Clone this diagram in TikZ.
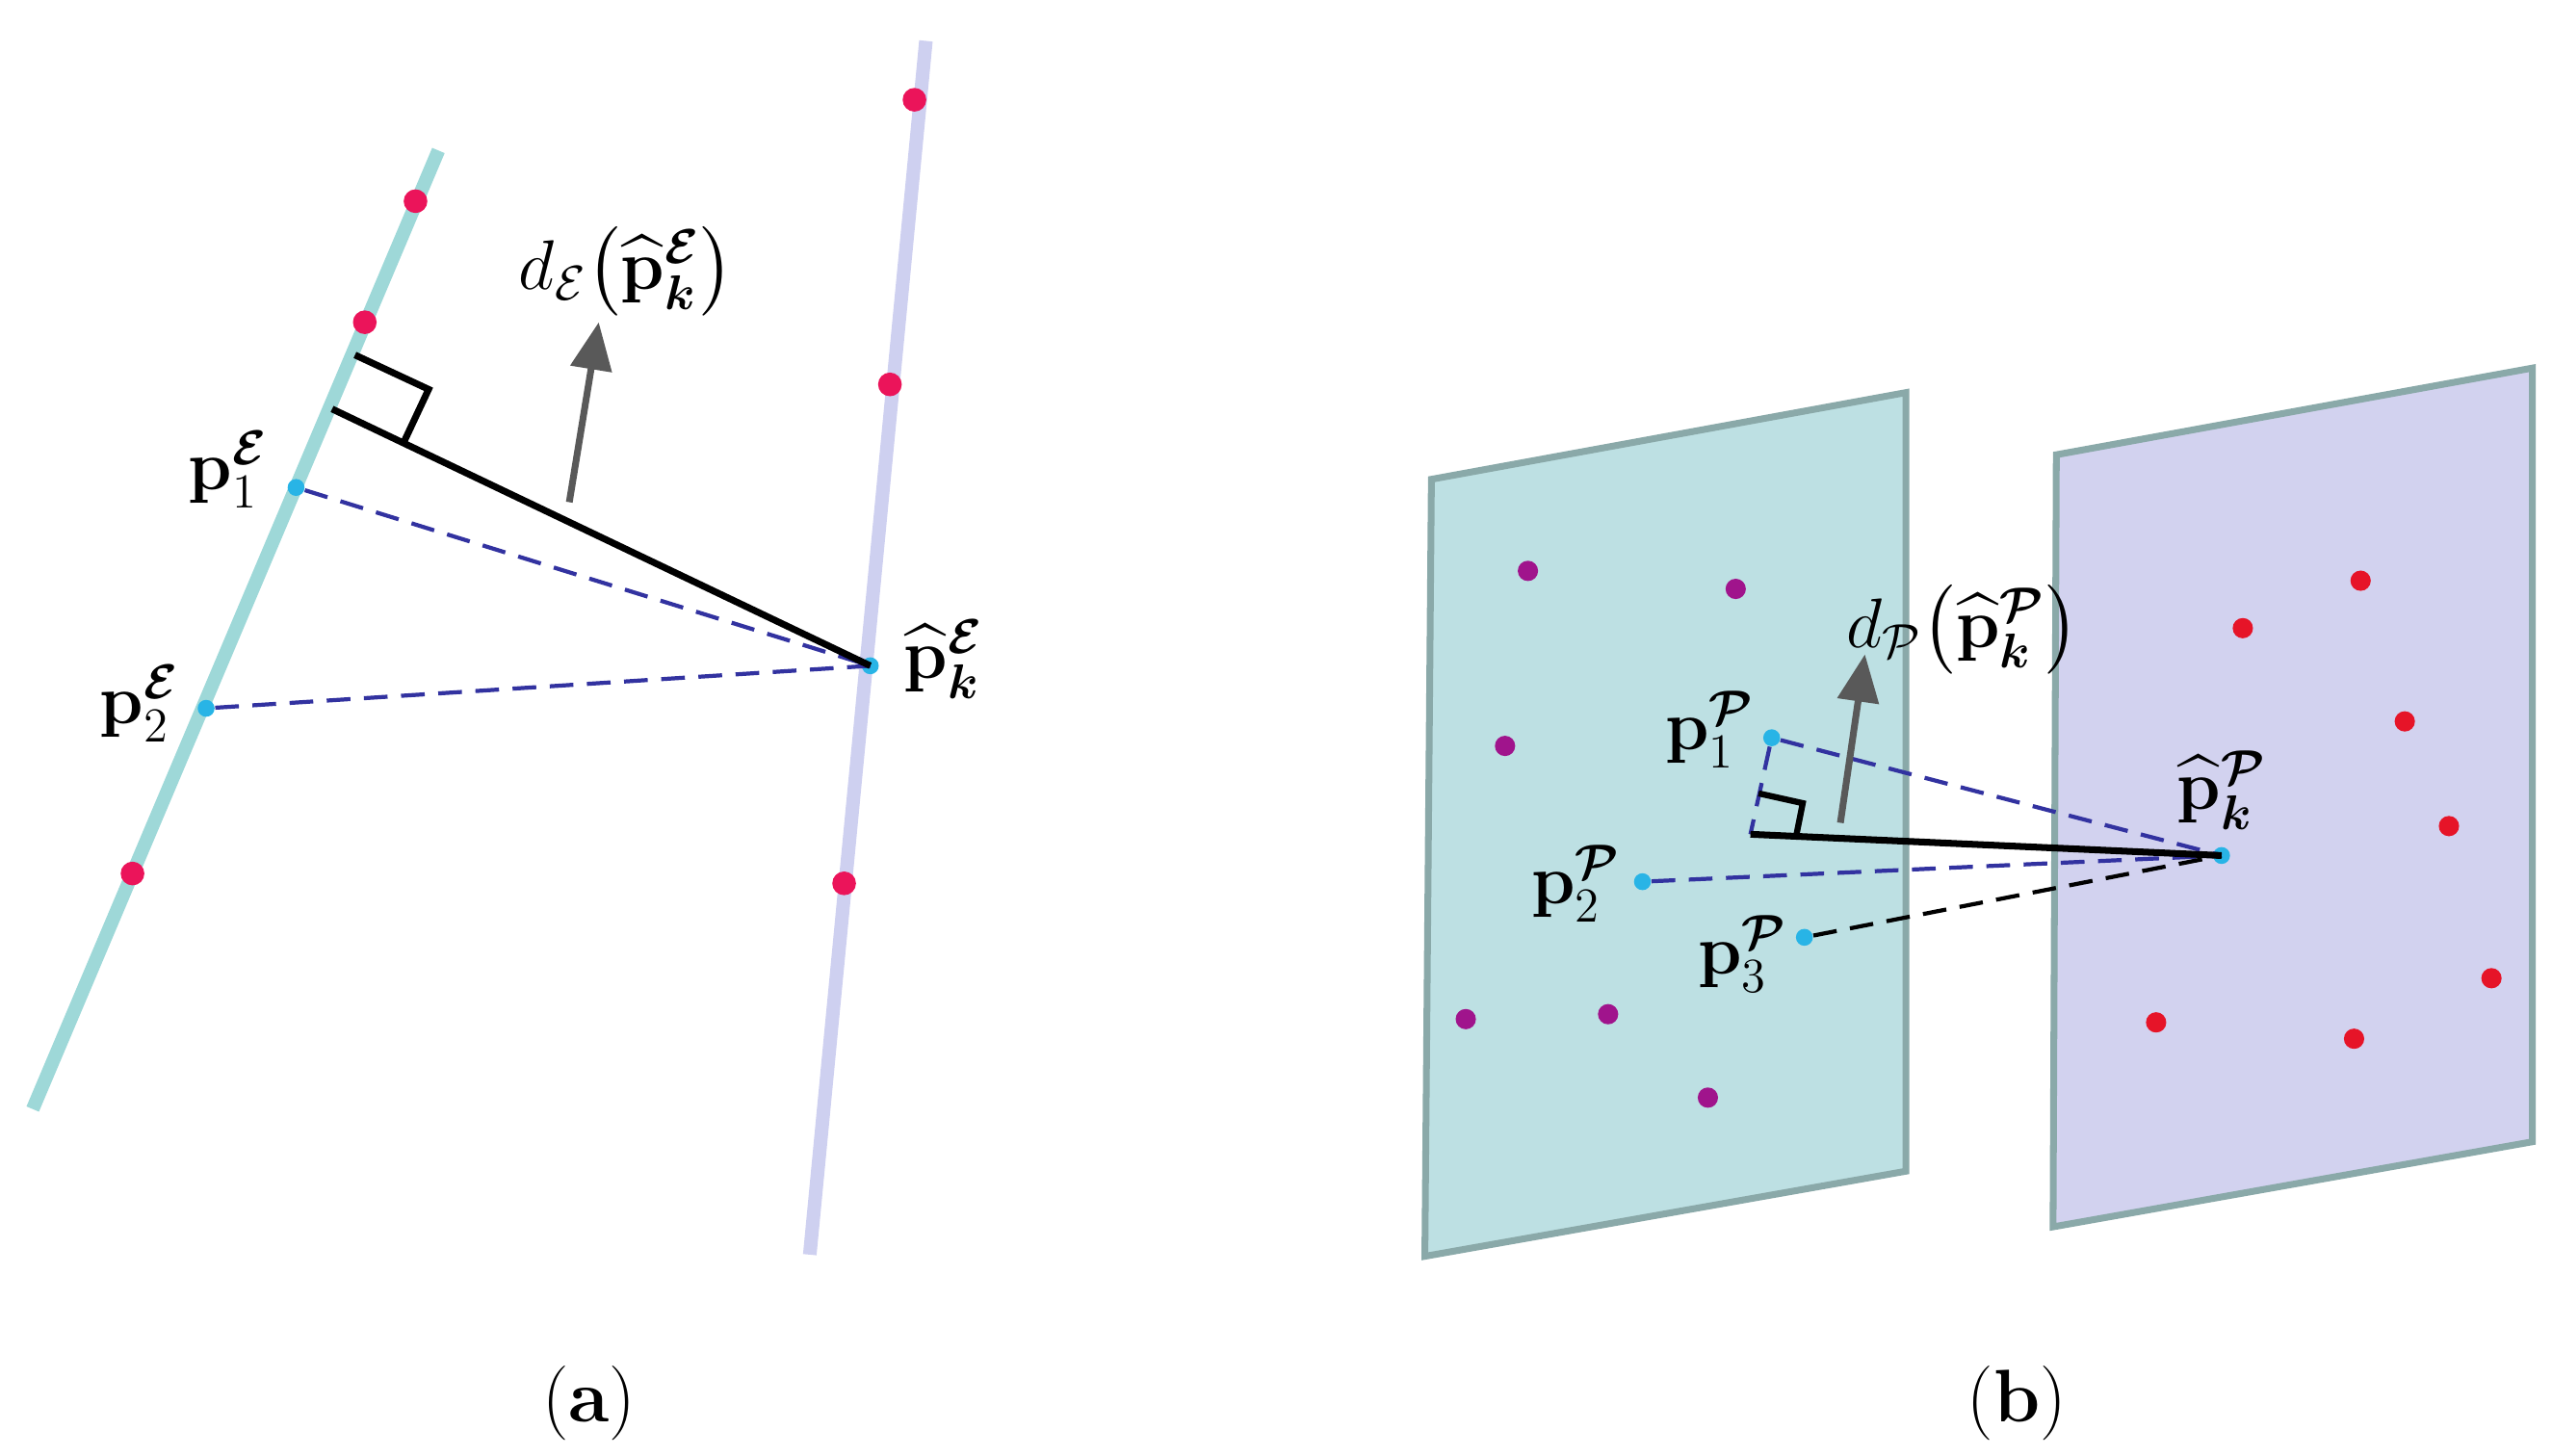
\documentclass[tikz,border=0pt]{standalone}
\usepackage{amsmath,amssymb,bm}
\usetikzlibrary{arrows.meta}
\begin{document}
\begin{tikzpicture}[x=0.016987cm,y=-0.016987cm,
  lbl/.style={font=\fontsize{22}{26}\selectfont, inner sep=1pt},
  rdot/.style={circle,fill={rgb,255:red,235;green,20;blue,90},inner sep=0pt,minimum size=7pt},
  pdot/.style={circle,fill={rgb,255:red,160;green,20;blue,140},inner sep=0pt,minimum size=6pt},
  rdot2/.style={circle,fill={rgb,255:red,230;green,20;blue,40},inner sep=0pt,minimum size=6pt},
  cdot/.style={circle,fill={rgb,255:red,40;green,180;blue,230},inner sep=0pt,minimum size=5pt},
  dsh/.style={dash pattern=on 7pt off 4pt,draw={rgb,255:red,50;green,50;blue,160},line width=1.2pt},
  arr/.style={draw=black!65,line width=2pt,-{Triangle[length=14pt,width=12pt]}}]
\useasboundingbox (0,0) rectangle (1560,890);
% ---- (a)
\coordinate (c1) at (268,92); \coordinate (c2) at (20,678);
\coordinate (l1) at (566,25); \coordinate (l2) at (495,767);
\draw[line width=4pt,color={rgb,255:red,158;green,216;blue,216}] (c1) -- (c2);
\draw[line width=4pt,color={rgb,255:red,206;green,208;blue,240}] (l1) -- (l2);
\foreach \p in {(254,123),(223,197),(81,534),(559,61),(544,235),(516,540)} \node[rdot] at \p {};
\node[cdot] (a1) at (181,298) {};
\node[cdot] (a2) at (126,433) {};
\node[cdot] (ak) at (532,407) {};
\coordinate (af) at (203,250);
\draw[dsh] (a1) -- (ak.center);
\draw[dsh] (a2) -- (ak.center);
\draw[line width=2pt] (af) -- (ak.center);
\draw[line width=2pt] (217,217) -- (262,238) -- (247,270);
\coordinate (aa1) at (348,307); \coordinate (aa2) at (366,197);
\draw[arr] (aa1) -- (aa2);
\node[lbl] (ad) at (383,166) {$d_{\mathcal{E}}\big(\widehat{\mathbf{p}}_{\bm{k}}^{\bm{\mathcal{E}}}\big)$};
\node[lbl,anchor=east] at (166,287) {$\mathbf{p}_1^{\bm{\mathcal{E}}}$};
\node[lbl,anchor=east] at (112,430) {$\mathbf{p}_2^{\bm{\mathcal{E}}}$};
\node[lbl,anchor=west] at (550,403) {$\widehat{\mathbf{p}}_{\bm{k}}^{\bm{\mathcal{E}}}$};
\node[lbl] at (360,858) {(\textbf{a})};
% ---- (b)
\draw[line width=2pt,draw={rgb,255:red,138;green,169;blue,169},fill={rgb,255:red,189;green,224;blue,227}]
  (875,293) -- (1165,240) -- (1165,716) -- (871,768) -- cycle;
\draw[line width=2pt,draw={rgb,255:red,138;green,169;blue,169},fill={rgb,255:red,210;green,210;blue,239}]
  (1257,278) -- (1548,225) -- (1548,698) -- (1255,750) -- cycle;
\foreach \p in {(934,349),(1061,360),(920,456),(896,623),(983,620),(1044,671)} \node[pdot] at \p {};
\foreach \p in {(1443,355),(1371,384),(1470,441),(1497,505),(1523,598),(1318,625),(1439,635)} \node[rdot2] at \p {};
\node[cdot] (b1) at (1083,451) {};
\node[cdot] (b2) at (1004,539) {};
\node[cdot] (b3) at (1103,573) {};
\node[cdot] (bk) at (1358,523) {};
\coordinate (bf) at (1070,510);
\draw[dsh] (b1) -- (bk.center);
\draw[dsh] (b2) -- (bk.center);
\draw[dash pattern=on 7pt off 4pt,line width=1.2pt] (b3) -- (bk.center);
\draw[dsh] (b1) -- (bf);
\draw[line width=2pt] (bf) -- (bk.center);
\draw[line width=1.8pt] (1075,485) -- (1102,491) -- (1098,511);
\coordinate (ba1) at (1125,503); \coordinate (ba2) at (1140,400);
\draw[arr] (ba1) -- (ba2);
\node[lbl] at (1200,385) {$d_{\mathcal{P}}\big(\widehat{\mathbf{p}}_{\bm{k}}^{\bm{\mathcal{P}}}\big)$};
\node[lbl,anchor=east] at (1075,446) {$\mathbf{p}_1^{\bm{\mathcal{P}}}$};
\node[lbl,anchor=east] at (993,540) {$\mathbf{p}_2^{\bm{\mathcal{P}}}$};
\node[lbl,anchor=east] at (1095,583) {$\mathbf{p}_3^{\bm{\mathcal{P}}}$};
\node[lbl] at (1358,483) {$\widehat{\mathbf{p}}_{\bm{k}}^{\bm{\mathcal{P}}}$};
\node[lbl] at (1233,858) {(\textbf{b})};
\end{tikzpicture}
\end{document}
